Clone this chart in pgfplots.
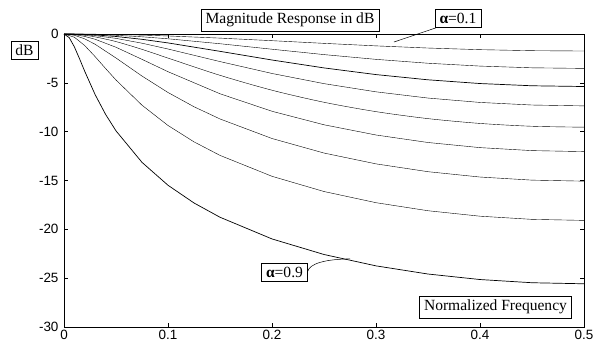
\documentclass[border=0pt]{standalone}
\usepackage{pgfplots}
\pgfplotsset{compat=1.18}
\usepackage{fontspec}
\setmainfont{Liberation Serif}
\newfontfamily\arialfont{Liberation Sans}
\tikzset{lbl/.style={draw, line width=0.5pt, fill=white, inner xsep=4.5bp, inner ysep=3.8bp,
    font=\fontsize{15.6}{18}\selectfont}}
\begin{document}
\begin{tikzpicture}
\path[use as bounding box] (-64bp,-18bp) rectangle (534bp,327bp);
\begin{axis}[at={(0,0)}, anchor=south west, scale only axis,
  width=520bp, height=293bp,
  xmin=0, xmax=0.5, ymin=-30, ymax=0,
  xtick={0,0.1,0.2,0.3,0.4,0.5}, xticklabels={0,0.1,0.2,0.3,0.4,0.5},
  ytick={-30,-25,-20,-15,-10,-5,0}, yticklabels={-30,-25,-20,-15,-10,-5,0},
  /pgf/number format/assume math mode=true,
  tick label style={font=\arialfont\fontsize{13.5}{15}\selectfont, black},
  yticklabel style={xshift=-2bp},
  tick align=inside, major tick length=4bp,
  every tick/.style={black, line width=0.6pt},
  axis line style={black, line width=0.9pt},
  clip=false,
  cycle list={{black, solid, line width=0.7pt, no marks, smooth, tension=0.5}},
]
% alpha = 0.1
\addplot coordinates {(0,0) (0.01,-0.002) (0.02,-0.008) (0.03,-0.019) (0.05,-0.052) (0.075,-0.115) (0.1,-0.200) (0.15,-0.421) (0.2,-0.684) (0.25,-0.958) (0.3,-1.216) (0.35,-1.437) (0.4,-1.604) (0.45,-1.708) (0.5,-1.743)};
% alpha = 0.2
\addplot coordinates {(0,0) (0.01,-0.005) (0.02,-0.021) (0.03,-0.048) (0.05,-0.131) (0.075,-0.286) (0.1,-0.490) (0.15,-0.996) (0.2,-1.559) (0.25,-2.109) (0.3,-2.596) (0.35,-2.994) (0.4,-3.285) (0.45,-3.462) (0.5,-3.522)};
% alpha = 0.3
\addplot coordinates {(0,0) (0.01,-0.010) (0.02,-0.042) (0.03,-0.093) (0.05,-0.253) (0.075,-0.544) (0.1,-0.913) (0.15,-1.775) (0.2,-2.663) (0.25,-3.472) (0.3,-4.155) (0.35,-4.690) (0.4,-5.072) (0.45,-5.301) (0.5,-5.377)};
% alpha = 0.4
\addplot coordinates {(0,0) (0.01,-0.019) (0.02,-0.075) (0.03,-0.168) (0.05,-0.448) (0.075,-0.942) (0.1,-1.536) (0.15,-2.824) (0.2,-4.041) (0.25,-5.082) (0.3,-5.921) (0.35,-6.559) (0.4,-7.007) (0.45,-7.272) (0.5,-7.360)};
% alpha = 0.5
\addplot coordinates {(0,0) (0.01,-0.034) (0.02,-0.135) (0.03,-0.297) (0.05,-0.776) (0.075,-1.571) (0.1,-2.465) (0.15,-4.231) (0.2,-5.756) (0.25,-6.990) (0.3,-7.949) (0.35,-8.664) (0.4,-9.157) (0.45,-9.447) (0.5,-9.542)};
% alpha = 0.6
\addplot coordinates {(0,0) (0.01,-0.064) (0.02,-0.250) (0.03,-0.542) (0.05,-1.358) (0.075,-2.595) (0.1,-3.860) (0.15,-6.119) (0.2,-7.912) (0.25,-9.294) (0.3,-10.341) (0.35,-11.109) (0.4,-11.634) (0.45,-11.940) (0.5,-12.041)};
% alpha = 0.7
\addplot coordinates {(0,0) (0.01,-0.131) (0.02,-0.502) (0.03,-1.057) (0.05,-2.458) (0.075,-4.306) (0.1,-5.989) (0.125,-7.448) (0.15,-8.699) (0.2,-10.700) (0.25,-12.189) (0.3,-13.297) (0.35,-14.099) (0.4,-14.645) (0.45,-14.962) (0.5,-15.067)};
% alpha = 0.8
\addplot coordinates {(0,0) (0.01,-0.330) (0.02,-1.191) (0.03,-2.326) (0.04,-3.535) (0.05,-4.710) (0.075,-7.291) (0.1,-9.365) (0.125,-11.043) (0.15,-12.428) (0.2,-14.570) (0.25,-16.128) (0.3,-17.272) (0.35,-18.096) (0.4,-18.655) (0.45,-18.979) (0.5,-19.085)};
% alpha = 0.9
\addplot coordinates {(0,0) (0.005,-0.369) (0.01,-1.320) (0.015,-2.550) (0.02,-3.837) (0.03,-6.220) (0.04,-8.232) (0.05,-9.917) (0.075,-13.143) (0.1,-15.487) (0.125,-17.301) (0.15,-18.762) (0.2,-20.982) (0.25,-22.577) (0.3,-23.741) (0.35,-24.576) (0.4,-25.140) (0.45,-25.468) (0.5,-25.575)};

% annotations
\node[lbl] at (axis cs:0.2173,1.43) {Magnitude Response in dB};
\node[lbl] (a1) at (axis cs:0.3788,1.58) {{\bfseries α}=0.1};
\draw[line width=0.5pt] ([xshift=1bp]a1.south west) -- (axis cs:0.3173,-0.82);
\node[lbl] at (axis cs:-0.038,-1.64) {dB};
\node[lbl] (a9) at (axis cs:0.2120,-24.41) {{\bfseries α}=0.9};
\draw[line width=0.5pt] ([yshift=1bp]a9.east) .. controls +(2bp,8bp) and (axis cs:0.252,-23.05) .. (axis cs:0.2750,-23.03);
\node[lbl] at (axis cs:0.4149,-27.94) {Normalized Frequency};
\end{axis}
\end{tikzpicture}
\end{document}
